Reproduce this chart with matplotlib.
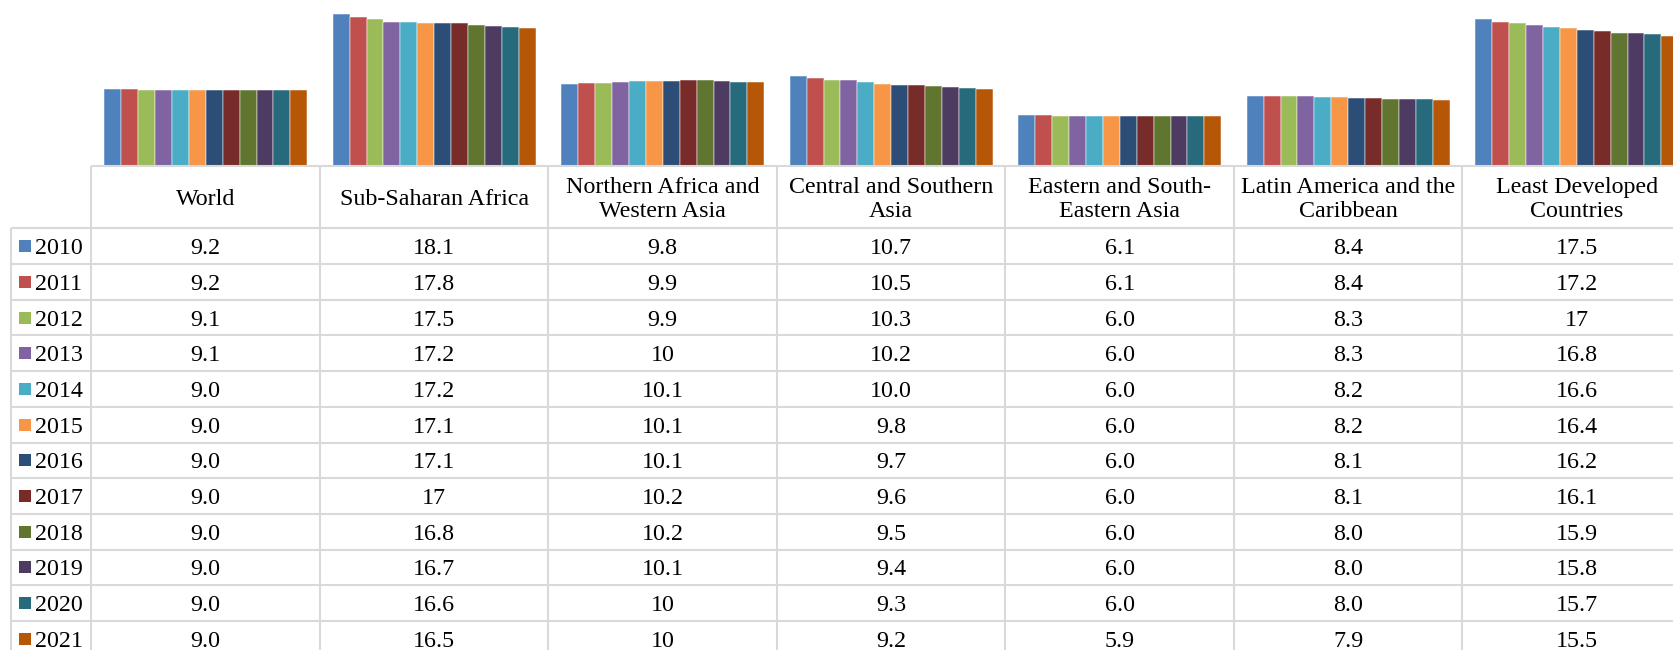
import matplotlib
matplotlib.use("Agg")
import matplotlib.pyplot as plt
import numpy as np

plt.rcParams['font.family'] = ['Liberation Serif', 'DejaVu Serif']

years = ["2010", "2011", "2012", "2013", "2014", "2015",
         "2016", "2017", "2018", "2019", "2020", "2021"]
regions = ["World", "Sub-Saharan Africa", "Northern Africa and\nWestern Asia",
           "Central and Southern\nAsia", "Eastern and South-\nEastern Asia",
           "Latin America and the\nCaribbean", "Least Developed\nCountries"]

world = ["9.2", "9.2", "9.1", "9.1", "9.0", "9.0", "9.0", "9.0", "9.0", "9.0", "9.0", "9.0"]
sub_saharan = ["18.1", "17.8", "17.5", "17.2", "17.2", "17.1", "17.1", "17", "16.8", "16.7", "16.6", "16.5"]
n_africa_w_asia = ["9.8", "9.9", "9.9", "10", "10.1", "10.1", "10.1", "10.2", "10.2", "10.1", "10", "10"]
central_south_asia = ["10.7", "10.5", "10.3", "10.2", "10.0", "9.8", "9.7", "9.6", "9.5", "9.4", "9.3", "9.2"]
east_se_asia = ["6.1", "6.1", "6.0", "6.0", "6.0", "6.0", "6.0", "6.0", "6.0", "6.0", "6.0", "5.9"]
latam_carib = ["8.4", "8.4", "8.3", "8.3", "8.2", "8.2", "8.1", "8.1", "8.0", "8.0", "8.0", "7.9"]
least_dev = ["17.5", "17.2", "17", "16.8", "16.6", "16.4", "16.2", "16.1", "15.9", "15.8", "15.7", "15.5"]

columns = [world, sub_saharan, n_africa_w_asia, central_south_asia,
           east_se_asia, latam_carib, least_dev]

colors = ["#4F81BD", "#C0504D", "#9BBB59", "#8064A2", "#4BACC6", "#F79646",
          "#2C4D75", "#772C2A", "#5F7530", "#4D3B62", "#276A7C", "#B65708"]

W, H = 1673, 650
fig = plt.figure(figsize=(W / 100, H / 100), dpi=100)

# layout (pixels)
x_leg0 = 11.0
x_col0 = 91.5
col_w = 228.5
y_base = 166.0
y_head_bot = 228.3
row_h = 35.7
px_per_unit = 8.39

# ---- bar chart ----
ax = fig.add_axes([x_col0 / W, (H - y_base) / H, 7 * col_w / W, y_base / H])
ax.set_xlim(-0.5, 6.5)
ax.set_ylim(0, y_base / px_per_unit)
ax.axis("off")
group = 0.889
bw = group / len(years)
xs = np.arange(len(regions))
for j, yr in enumerate(years):
    vals = [float(c[j]) for c in columns]
    ax.bar(xs - group / 2 + bw * (j + 0.5), vals, width=bw, color=colors[j],
           edgecolor="white", linewidth=0.35)

# ---- data table ----
at = fig.add_axes([0, 0, 1, 1])
at.set_xlim(0, W)
at.set_ylim(H, 0)
at.axis("off")
gc = "#D9D9D9"
lw = 1.5
fs = 17.3

# header top line
at.plot([x_col0, W + 5], [y_base, y_base], color=gc, lw=lw, solid_capstyle="butt")
# vertical lines
for k in range(8):
    xv = x_col0 + k * col_w
    at.plot([xv, xv], [y_base, H + 5], color=gc, lw=lw, solid_capstyle="butt")
at.plot([x_leg0, x_leg0], [y_head_bot, H + 5], color=gc, lw=lw, solid_capstyle="butt")
# horizontal lines
for r in range(len(years) + 1):
    yh = y_head_bot + r * row_h
    at.plot([x_leg0, W + 5], [yh, yh], color=gc, lw=lw, solid_capstyle="butt")

# header text
y_head_c = (y_base + y_head_bot) / 2
cap = 8.0
line_gap = 24.5
for i, name in enumerate(regions):
    xc = x_col0 + (i + 0.5) * col_w
    lines = name.split("\n")
    n = len(lines)
    for k, ln in enumerate(lines):
        yb = y_head_c + cap + (k - (n - 1) / 2) * line_gap
        at.text(xc, yb, ln, ha="center", va="baseline", fontsize=fs, color="black")

# rows
for j, yr in enumerate(years):
    yc = y_head_bot + (j + 0.5) * row_h
    at.add_patch(plt.Rectangle((19, yc - 6), 12, 12, color=colors[j], lw=0))
    at.text(35.5, yc + cap, yr, ha="left", va="baseline", fontsize=fs, color="black")
    for i, col in enumerate(columns):
        xc = x_col0 + (i + 0.5) * col_w
        at.text(xc, yc + cap, col[j], ha="center", va="baseline", fontsize=fs, color="black")

fig.savefig("out.png", dpi=100)
